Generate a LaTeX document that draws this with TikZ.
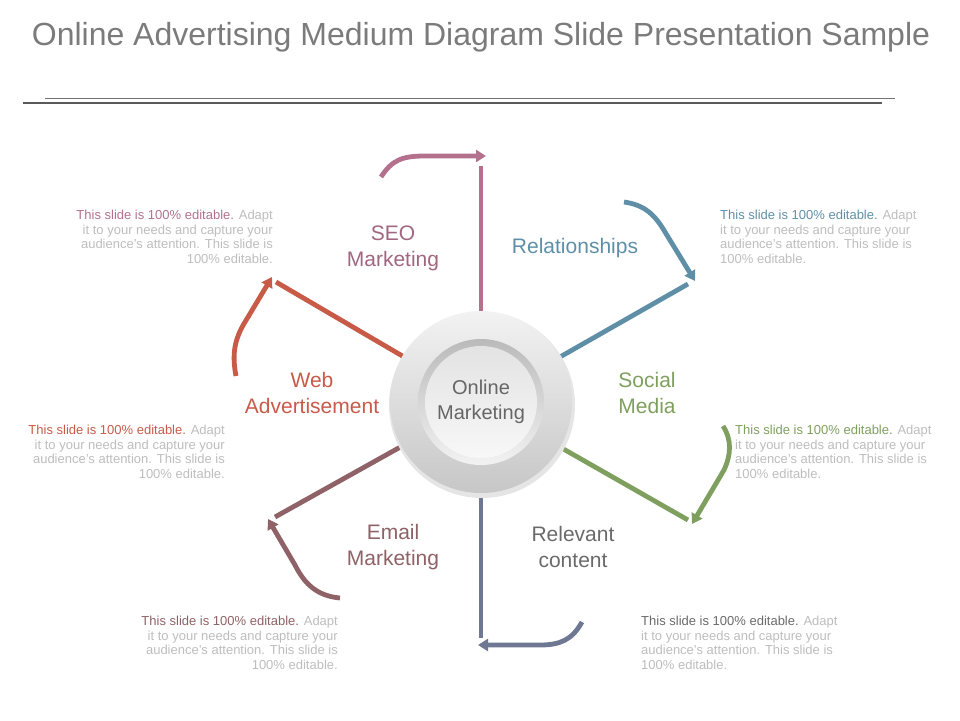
\documentclass[tikz,border=0pt]{standalone}
\usepackage{fontspec}
\setmainfont{Liberation Sans}
\usetikzlibrary{arrows.meta}

\definecolor{titlegray}{HTML}{7B7B7B}
\definecolor{rulegray}{HTML}{5A5A5A}
\definecolor{notegray}{HTML}{BDBDBD}
\definecolor{seoc}{HTML}{B3718E}
\definecolor{relc}{HTML}{5F8FA7}
\definecolor{socc}{HTML}{7F9F5E}
\definecolor{revc}{HTML}{6E7893}
\definecolor{revtext}{HTML}{6A6A6A}
\definecolor{mailc}{HTML}{8E6266}
\definecolor{webc}{HTML}{C85A48}

\newcommand{\notetext}[1]{{\color{#1}This slide is 100\% editable.} Adapt\\it to your needs and capture your\\audience's attention. This slide is\\100\% editable.}

\tikzset{
  spoke/.style={line width=4.8pt, draw=#1},
  bendarrow/.style={line width=4.8pt, draw=#1, -{Triangle[length=10pt,width=12pt]}},
  topic/.style={text=#1, align=center, font=\fontsize{21}{26}\selectfont},
  note/.style={text=notegray, inner sep=0pt, font=\fontsize{13}{14.5}\selectfont}
}

\begin{document}
\begin{tikzpicture}[x=1pt,y=-1pt]
  \useasboundingbox (0,0) rectangle (960,720);
  % Title and rules
  \node[text=titlegray, font=\fontsize{32}{38}\selectfont] (title) at (481,37) {Online Advertising Medium Diagram Slide Presentation Sample};
  \draw[rulegray!85, line width=0.8pt] (45,98) -- (895,98);
  \draw[rulegray, line width=2.5pt] (23,103) -- (882,103);

  % Hub and spoke ends
  \coordinate (hub) at (481,402);
  \coordinate (seoEnd) at (481,166);
  \coordinate (relEnd) at (688,284);
  \coordinate (socEnd) at (688,520);
  \coordinate (revEnd) at (481,638);
  \coordinate (mailEnd) at (275,517);
  \coordinate (webEnd) at (276,282);

  % Spokes
  \draw[spoke=seoc] (hub) -- (seoEnd);
  \draw[spoke=relc] (hub) -- (relEnd);
  \draw[spoke=socc] (hub) -- (socEnd);
  \draw[spoke=revc] (hub) -- (revEnd);
  \draw[spoke=mailc] (hub) -- (mailEnd);
  \draw[spoke=webc] (hub) -- (webEnd);

  % Curved arrows
  \coordinate (seoTail) at (381,177);
  \coordinate (seoHead) at (486,156);
  \draw[bendarrow=seoc] (seoTail) .. controls (392,160) and (402,156) .. (425,156) -- (seoHead);
  \coordinate (relTail) at (624,202);
  \coordinate (relHead) at (695,281);
  \draw[bendarrow=relc] (relTail) .. controls (645,205) and (655,215) .. (665,232) -- (relHead);
  \coordinate (socTail) at (723,426);
  \coordinate (socHead) at (692,524);
  \draw[bendarrow=socc] (socTail) .. controls (732,440) and (731,455) .. (724,470) -- (socHead);
  \coordinate (revTail) at (582,622);
  \coordinate (revHead) at (478,645);
  \draw[bendarrow=revc] (revTail) .. controls (572,640) and (560,645) .. (540,645) -- (revHead);
  \coordinate (mailTail) at (340,598);
  \coordinate (mailHead) at (268,519);
  \draw[bendarrow=mailc] (mailTail) .. controls (318,596) and (305,585) .. (295,565) -- (mailHead);
  \coordinate (webTail) at (236,376);
  \coordinate (webHead) at (272,277);
  \draw[bendarrow=webc] (webTail) .. controls (232,355) and (234,340) .. (245,322) -- (webHead);

  % Centre disc
  \fill[black!10] (482,405) circle (93);
  \shade[top color=white!95!black, bottom color=black!22] (hub) circle (91);
  \shade[top color=black!27, bottom color=black!5] (hub) circle (63);
  \shade[top color=black!11, bottom color=black!3] (hub) circle (56);
  \node[text=black!60, align=center, font=\fontsize{20}{25}\selectfont] (hubtext) at (hub) {Online\\Marketing};

  % Topic labels
  \node[topic=seoc!90!black] (seoLabel) at (393,248) {SEO\\Marketing};
  \node[topic=relc] (relLabel) at (575,248) {Relationships};
  \node[topic=socc] (socLabel) at (647,393) {Social\\Media};
  \node[topic=revtext] (revLabel) at (573,547) {Relevant\\content};
  \node[topic=mailc] (mailLabel) at (393,547) {Email\\Marketing};
  \node[topic=webc] (webLabel) at (312,393) {Web\\Advertisement};

  % Notes
  \node[note, anchor=north east, align=right] (seoNote) at (273,210) {\notetext{seoc}};
  \node[note, anchor=north west, align=left] (relNote) at (720,210) {\notetext{relc}};
  \node[note, anchor=north east, align=right] (webNote) at (225,425) {\notetext{webc}};
  \node[note, anchor=north west, align=left] (socNote) at (735,425) {\notetext{socc}};
  \node[note, anchor=north east, align=right] (mailNote) at (338,616) {\notetext{mailc}};
  \node[note, anchor=north west, align=left] (revNote) at (641,616) {\notetext{revtext}};
\end{tikzpicture}
\end{document}
